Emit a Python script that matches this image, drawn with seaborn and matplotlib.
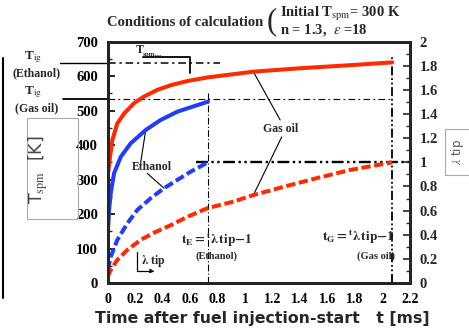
import numpy as np
import pandas as pd
import matplotlib
matplotlib.use("Agg")
import matplotlib.pyplot as plt
import seaborn as sns
from matplotlib.lines import Line2D
from matplotlib.patches import Rectangle

# ---------------- data ----------------
t_gas_T = [0, 0.017, 0.034, 0.07, 0.12, 0.19, 0.26, 0.36, 0.46, 0.58, 0.72, 0.9, 1.06, 1.4, 1.77, 2.07]
T_gas = [308, 366, 415, 463, 492, 521, 540, 560, 574, 586, 596, 605, 613, 623, 632, 640]

t_eth_T = [0, 0.01, 0.022, 0.046, 0.095, 0.167, 0.277, 0.386, 0.507, 0.629, 0.73]
T_eth = [134, 212, 260, 318, 366, 405, 444, 473, 497, 513, 526]

t_eth_L = [0, 0.022, 0.07, 0.143, 0.216, 0.313, 0.41, 0.507, 0.604, 0.73]
L_eth_K = [38, 76, 125, 173, 212, 246, 275, 299, 323, 350]

t_gas_L = [0, 0.022, 0.07, 0.143, 0.24, 0.337, 0.46, 0.58, 0.725, 0.915, 1.06, 1.28, 1.52, 1.765, 2.07]
L_gas_K = [18, 38, 67, 96, 125, 146, 168, 192, 217, 236, 255, 279, 304, 328, 350]

x_ticks = [0, 0.2, 0.4, 0.6, 0.8, 1, 1.2, 1.4, 1.6, 1.8, 2, 2.2]
x_ticklabels = ["0", "0.2", "0.4", "0.6", "0.8", "1", "1.2", "1.4", "1.6", "1.8", "2", "2.2"]
y_ticks = [0, 100, 200, 300, 400, 500, 600, 700]
y2_ticks = [0, 0.2, 0.4, 0.6, 0.8, 1, 1.2, 1.4, 1.6, 1.8, 2]
y2_ticklabels = ["0", "0.2", "0.4", "0.6", "0.8", "1", "1.2", "1.4", "1.6", "1.8", "2"]

T_ig_eth = 637
T_ig_gas = 533
t_E = 0.73
t_G = 2.07

RED = "#ff2a00"
BLUE = "#1f3dff"

sns.set_style("white")
plt.rcParams["font.family"] = ["Liberation Serif", "DejaVu Serif"]
plt.rcParams["mathtext.fontset"] = "stix"

W, H = 469, 329
fig = plt.figure(figsize=(W / 100, H / 100), dpi=100)
ax = fig.add_axes([107.7 / W, 1 - 283 / H, (410 - 107.7) / W, (283 - 41.7) / H])

df_gT = pd.DataFrame({"t": t_gas_T, "v": T_gas})
df_eT = pd.DataFrame({"t": t_eth_T, "v": T_eth})
df_eL = pd.DataFrame({"t": t_eth_L, "v": L_eth_K})
df_gL = pd.DataFrame({"t": t_gas_L, "v": L_gas_K})

sns.lineplot(data=df_gT, x="t", y="v", ax=ax, color=RED, lw=2.9, zorder=4)
sns.lineplot(data=df_eT, x="t", y="v", ax=ax, color=BLUE, lw=2.9, zorder=4)
sns.lineplot(data=df_eL, x="t", y="v", ax=ax, color=BLUE, lw=2.9, zorder=4)
ax.lines[-1].set_dashes([2.3, 0.9])
sns.lineplot(data=df_gL, x="t", y="v", ax=ax, color=RED, lw=2.9, zorder=4)
ax.lines[-1].set_dashes([2.3, 0.9])
for ln in ax.lines:
    ln.set_solid_joinstyle("round")
    ln.set_solid_capstyle("round")

ax.set_xlim(0, 2.2)
ax.set_ylim(0, 700)

# reference lines
ax.plot([0, 0.82], [T_ig_eth, T_ig_eth], color="black", lw=1.1, dashes=[5, 2.5, 1.5, 2.5], zorder=3)
ax.plot([-0.347, 0], [T_ig_eth, T_ig_eth], color="black", lw=1.0, clip_on=False)
ax.plot([0, t_G], [T_ig_gas, T_ig_gas], color="black", lw=0.8, dashes=[6, 3, 1.5, 3], zorder=3)
ax.plot([-0.325, 0], [T_ig_gas, T_ig_gas], color="black", lw=1.3, clip_on=False)
ax.plot([0.645, 2.2], [350, 350], color="black", lw=1.7, dashes=[5, 1.5, 1, 1.5, 1, 1.5], zorder=3)
ax.plot([t_E, t_E], [0, 550], color="black", lw=0.8, dashes=[6, 2, 1, 2], zorder=3)
ax.plot([t_G, t_G], [0, 655], color="black", lw=1.3, dashes=[5, 1.5, 1, 1.5, 1, 1.5], zorder=3)

# Tspm bracket near top
ax.plot([0.26, 0.6, 0.6], [656, 656, 609], color="black", lw=1.3)
ax.text(0.205, 677, "T", fontsize=8.5, fontweight="bold", ha="left", va="center")
ax.text(0.255, 664, "spm,...", fontsize=5, fontweight="bold", ha="left", va="center")

# annotation leader lines
ax.plot([1.06, 1.255], [613, 473], color="black", lw=0.8)
ax.plot([1.267, 1.06], [424, 255], color="black", lw=0.8)
ax.plot([0.277, 0.24], [444, 350], color="black", lw=0.8)
ax.plot([0.288, 0.41], [318, 275], color="black", lw=0.8)
ax.text(1.26, 447, "Gas oil", fontsize=8.5, fontweight="bold", ha="center", va="center")
ax.text(0.32, 336, "Ethanol", fontsize=8.5, fontweight="bold", ha="center", va="center")

# t_E / t_G labels
ax.text(0.79, 125, r"$\mathbf{t_E = {}^{t}\lambda\,tip{-}1}$", fontsize=9.5, ha="center", va="center")
ax.text(0.79, 78, "(Ethanol)", fontsize=7.5, fontweight="bold", ha="center", va="center")
ax.text(1.82, 133, r"$\mathbf{t_G = {}^{t}\lambda\,tip{-}1}$", fontsize=9.5, ha="center", va="center")
ax.text(1.95, 77, "(Gas oil)", fontsize=7.5, fontweight="bold", ha="center", va="center")

# lambda tip bracket
ax.plot([0.216, 0.216, 0.30], [91, 36, 36], color="black", lw=0.9)
ax.annotate("", xy=(0.36, 32), xytext=(0.29, 36),
            arrowprops=dict(arrowstyle="-|>", lw=0.8, color="black", mutation_scale=6))
ax.text(0.245, 64, r"$\mathbf{\lambda}$ tip", fontsize=8.5, fontweight="bold", ha="left", va="center")

# ticks / spines
ax.set_xticks(x_ticks)
ax.set_xticklabels(x_ticklabels)
ax.set_yticks(y_ticks)
ax.set_xticks(np.arange(0, 2.21, 0.1), minor=True)
ax.set_yticks(np.arange(0, 701, 50), minor=True)
ax.tick_params(axis="both", which="major", direction="in", length=5, width=1.2,
               labelsize=10.5, colors="black")
ax.tick_params(axis="both", which="minor", direction="in", length=3, width=1)
ax.tick_params(axis="y", pad=7)
ax.tick_params(axis="x", pad=7, labelsize=10)
for lab in ax.get_xticklabels() + ax.get_yticklabels():
    lab.set_fontweight("bold")
for s in ax.spines.values():
    s.set_linewidth(2)
    s.set_color("black")
ax.set_xlabel("")
ax.set_ylabel("")

ax2 = ax.twinx()
ax2.set_position(ax.get_position())
ax2.set_ylim(0, 2)
ax2.set_yticks(y2_ticks)
ax2.set_yticklabels(y2_ticklabels)
ax2.set_yticks(np.arange(0, 2.01, 0.1), minor=True)
ax2.tick_params(axis="y", which="major", direction="in", length=5, width=1.2, labelsize=10.5, pad=7)
ax2.tick_params(axis="y", which="minor", direction="in", length=3, width=1)
for lab in ax2.get_yticklabels():
    lab.set_fontweight("bold")
for s in ax2.spines.values():
    s.set_linewidth(2)

# x label
fig.text(262 / W, 1 - 318 / H, "Time after fuel injection-start   t [ms]",
         family="DejaVu Sans", fontsize=11.3, fontweight="heavy", ha="center", va="center")

# title
fig.text(185 / W, 1 - 23 / H, "Conditions of calculation", fontsize=10.5, fontweight="bold",
         ha="center", va="center")
fig.text(272 / W, 1 - 22 / H, "(", fontsize=22, ha="center", va="center")
fig.text(280 / W, 1 - 14 / H, r"Initial T$_{\rm spm}$= 300 K", fontsize=10.5, fontweight="bold",
         ha="left", va="center")
fig.text(280 / W, 1 - 30 / H, r"n = 1.3,  $\varepsilon$ =18", fontsize=10.5, fontweight="bold",
         ha="left", va="center")

# T_ig labels
fig.text(33 / W, 1 - 57 / H, r"T$_{\rm ig}$", fontsize=9.5, fontweight="bold", ha="center", va="center")
fig.text(37 / W, 1 - 73 / H, "(Ethanol)", fontsize=8.5, fontweight="bold", ha="center", va="center")
fig.text(33 / W, 1 - 92 / H, r"T$_{\rm ig}$", fontsize=9.5, fontweight="bold", ha="center", va="center")
fig.text(37 / W, 1 - 108 / H, "(Gas oil)", fontsize=8.5, fontweight="bold", ha="center", va="center")

# y-axis labels in grey boxes
fig.patches.append(Rectangle((27 / W, 1 - 219 / H), 51 / W, 101 / H, transform=fig.transFigure,
                             fill=False, edgecolor="#aaaaaa", lw=0.8))
fig.text(38 / W, 1 - 170 / H, r"T$_{\rm spm}$  [K]", family="DejaVu Sans", fontsize=12.5,
         color="#444444", rotation=90, ha="center", va="center")
fig.patches.append(Rectangle((445 / W, 1 - 175 / H), 30 / W, 46 / H, transform=fig.transFigure,
                             fill=False, edgecolor="#aaaaaa", lw=0.8))
fig.text(457 / W, 1 - 152 / H, r"$\lambda$ tip", family="DejaVu Sans", fontsize=8.5,
         color="#555555", rotation=90, ha="center", va="center")

# left frame edge
fig.lines.append(Line2D([2.5 / W, 2.5 / W], [1 - 58 / H, 1 - 298 / H], transform=fig.transFigure,
                        color="black", lw=1.5))

fig.savefig("out.png", dpi=100)
